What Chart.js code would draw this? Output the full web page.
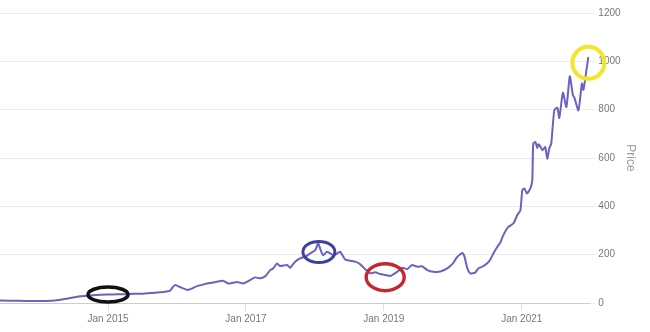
<!DOCTYPE html>
<html>
<head>
<meta charset="utf-8">
<title>Price</title>
<script src="https://cdn.jsdelivr.net/npm/chart.js@4.4.0/dist/chart.umd.min.js"></script>
<style>
    html, body { margin: 0; padding: 0; background: #fff; }
    #wrap { width: 650px; height: 332px; position: relative; }
</style>
</head>
<body>
<div id="wrap"><canvas id="priceChart"></canvas></div>
<script>
var dates = [
    '2013-06-07', '2013-09-21', '2014-01-06', '2014-03-24', '2014-05-27', '2014-08-05', '2014-09-27', '2014-11-19',
    '2015-01-11', '2015-02-18', '2015-03-28', '2015-05-12', '2015-06-18', '2015-08-11', '2015-10-03', '2015-11-09',
    '2015-11-25', '2015-12-10', '2015-12-21', '2016-01-01', '2016-01-17', '2016-02-28', '2016-03-25', '2016-04-16',
    '2016-05-17', '2016-06-08', '2016-07-05', '2016-07-28', '2016-09-02', '2016-09-28', '2016-10-24', '2016-11-15',
    '2016-12-17', '2017-01-23', '2017-02-19', '2017-03-15', '2017-04-11', '2017-04-22', '2017-05-07', '2017-05-23',
    '2017-06-14', '2017-06-28', '2017-08-06', '2017-08-22', '2017-09-18', '2017-10-14', '2017-11-10', '2017-12-06',
    '2018-01-03', '2018-01-18', '2018-01-28', '2018-02-14', '2018-03-05', '2018-04-07', '2018-04-28', '2018-05-13',
    '2018-06-09', '2018-07-05', '2018-08-02', '2018-08-28', '2018-09-24', '2018-10-20', '2018-11-16', '2018-12-12',
    '2019-01-08', '2019-02-04', '2019-02-20', '2019-03-11', '2019-04-07', '2019-05-03', '2019-05-28', '2019-06-26',
    '2019-07-21', '2019-08-18', '2019-09-19', '2019-10-26', '2019-12-02', '2020-01-03', '2020-01-24', '2020-02-10',
    '2020-02-21', '2020-03-01', '2020-03-17', '2020-04-02', '2020-04-28', '2020-05-14', '2020-06-05', '2020-07-01',
    '2020-07-17', '2020-08-03', '2020-08-24', '2020-09-09', '2020-09-25', '2020-10-21', '2020-11-17', '2020-12-08',
    '2020-12-24', '2021-01-04', '2021-01-15', '2021-01-28', '2021-02-16', '2021-02-26', '2021-03-01', '2021-03-12',
    '2021-03-22', '2021-03-28', '2021-04-08', '2021-04-19', '2021-05-04', '2021-05-14', '2021-05-25', '2021-06-05',
    '2021-06-21', '2021-07-07', '2021-07-17', '2021-08-06', '2021-08-24', '2021-09-12', '2021-09-28', '2021-10-06',
    '2021-10-27', '2021-11-15', '2021-11-23', '2021-12-09', '2021-12-19'
];
var prices = [
    10, 9, 8, 10, 18, 28, 31, 34,
    35, 36, 36, 38, 38, 41, 44, 48,
    51, 67, 74, 72, 66, 54, 62, 70,
    76, 81, 84, 88, 92, 81, 84, 87,
    81, 95, 106, 102, 110, 120, 136, 143,
    164, 153, 157, 146, 171, 185, 191, 205,
    219, 247, 226, 198, 212, 198, 205, 212,
    180, 175, 171, 160, 140, 123, 127, 120,
    116, 112, 118, 129, 146, 140, 157, 150,
    152, 136, 129, 130, 143, 165, 191, 201,
    207, 195, 143, 123, 126, 143, 150, 164,
    180, 205, 233, 250, 281, 315, 329, 364,
    384, 467, 474, 453, 474, 508, 660, 666,
    642, 657, 648, 632, 645, 597, 640, 660,
    797, 808, 766, 870, 811, 938, 860, 850,
    797, 908, 882, 965, 1018
];

var tickDates = ['2015-01-01', '2017-01-01', '2019-01-01', '2021-01-01'];
var tickLabels = ['Jan 2015', 'Jan 2017', 'Jan 2019', 'Jan 2021'];
var axisStart = '2013-06-07';
var axisEnd = '2021-12-24';

// the hand drawn circles on the screenshot
var circledDates = ['2015-01-01', '2018-01-22', '2019-01-08', '2021-12-19'];
var circledPrices = [35, 211, 107, 994];

function toYear(s) {
    var p = s.split('-');
    return +p[0] + ((+p[1] - 1) + (+p[2] - 1) / 30) / 12;
}

var points = dates.map(function(d, i) {
    return { x: toYear(d), y: prices[i] };
});

var circleStyles = [
    { color: '#111111', rx: 20, ry: 7.5, width: 3.5 },
    { color: '#3d3fa3', rx: 16, ry: 10.5, width: 3 },
    { color: '#c5282f', rx: 19, ry: 13.5, width: 3.5 },
    { color: '#f3e52c', rx: 16, ry: 16, width: 4 }
];

var circlePlugin = {
    id: 'circles',
    afterDatasetsDraw: function(chart) {
        var ctx = chart.ctx;
        var xs = chart.scales.x, ys = chart.scales.y;
        ctx.save();
        circledDates.forEach(function(d, i) {
            var st = circleStyles[i];
            ctx.beginPath();
            ctx.ellipse(xs.getPixelForValue(toYear(d)), ys.getPixelForValue(circledPrices[i]), st.rx, st.ry, 0, 0, Math.PI * 2);
            ctx.strokeStyle = st.color;
            ctx.lineWidth = st.width;
            ctx.stroke();
        });
        ctx.restore();
    }
};

var font = 'Arial, "Liberation Sans", sans-serif';

var ctx = document.getElementById('priceChart').getContext('2d');
var chart = new Chart(ctx, {
    type: 'line',
    data: {
        datasets: [{
            label: 'Price',
            data: points,
            borderColor: '#6a62c0',
            borderWidth: 2,
            pointRadius: 0,
            tension: 0.2,
            fill: false
        }]
    },
    options: {
        responsive: true,
        maintainAspectRatio: false,
        animation: false,
        layout: { padding: { top: 13, right: 8, bottom: 4, left: 0 } },
        plugins: {
            legend: { display: false },
            tooltip: { enabled: false }
        },
        scales: {
            x: {
                type: 'linear',
                min: toYear(axisStart),
                max: toYear(axisEnd),
                afterBuildTicks: function(scale) {
                    scale.ticks = tickDates.map(function(d) { return { value: toYear(d) }; });
                },
                ticks: {
                    autoSkip: false,
                    maxRotation: 0,
                    padding: 2.5,
                    color: '#777',
                    font: { family: font, size: 10 },
                    callback: function(value) {
                        for (var i = 0; i < tickDates.length; i++) {
                            if (Math.abs(toYear(tickDates[i]) - value) < 0.001) return tickLabels[i];
                        }
                        return '';
                    }
                },
                grid: { drawOnChartArea: false, drawTicks: true, tickLength: 8, color: '#e0e0e0' },
                border: { display: true, color: '#cccccc' }
            },
            y: {
                position: 'right',
                min: 0,
                max: 1200,
                ticks: {
                    stepSize: 200,
                    padding: 3,
                    color: '#777',
                    font: { family: font, size: 10 },
                    callback: function(value) { return String(value); }
                },
                grid: { color: '#ebebeb', tickLength: 6 },
                border: { display: false },
                title: {
                    display: true,
                    text: 'Price',
                    color: '#999',
                    font: { family: font, size: 12 },
                    padding: { top: 4, bottom: 0 }
                }
            }
        }
    },
    plugins: [circlePlugin]
});
</script>
</body>
</html>
